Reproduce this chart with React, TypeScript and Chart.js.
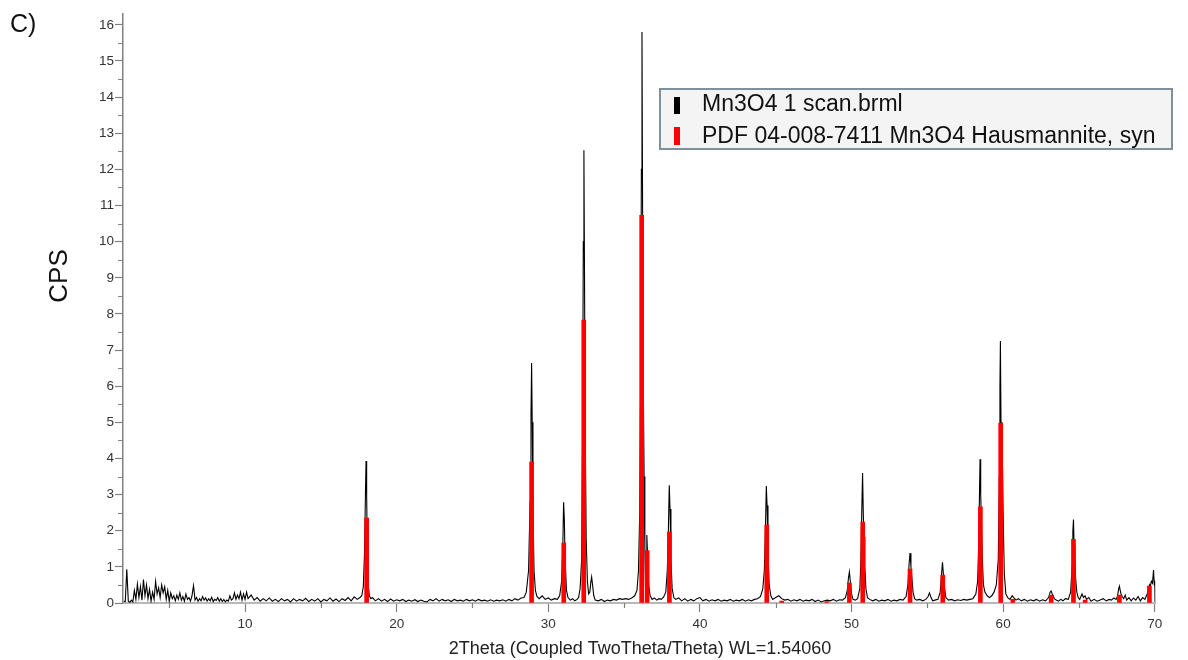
import React, { useEffect, useRef } from "react";
import { Chart, registerables } from "chart.js";

Chart.register(...registerables);

const panelLabel = "C)";
const yTitle = "CPS";
const xTitle = "2Theta (Coupled TwoTheta/Theta) WL=1.54060";
const scanLabel = "Mn3O4 1 scan.brml";
const refLabel = "PDF 04-008-7411 Mn3O4 Hausmannite, syn";

const xTicks = [10, 20, 30, 40, 50, 60, 70];
const xMinorTicks = [5, 15, 25, 35, 45, 55, 65];
const yTicks = [0, 1, 2, 3, 4, 5, 6, 7, 8, 9, 10, 11, 12, 13, 14, 15, 16];
const yMinorTicks = [0.5, 1.5, 2.5, 3.5, 4.5, 5.5, 6.5, 7.5, 8.5, 9.5, 10.5, 11.5, 12.5, 13.5, 14.5, 15.5];

// measured scan: [2theta, CPS]
const scanLowAngle: [number, number][] = [
  [2.0, 0.05], [2.1, 0.04], [2.2, 0.93], [2.3, 0.05], [2.4, 0.02], [2.5, 0.08], [2.6, 0.03], [2.7, 0.35], [2.8, 0.1], [2.9, 0.52],
  [3.0, 0.15], [3.1, 0.45], [3.2, 0.08], [3.3, 0.65], [3.4, 0.2], [3.5, 0.5], [3.6, 0.12], [3.7, 0.38], [3.8, 0.05], [3.9, 0.3],
  [4.0, 0.1], [4.1, 0.6], [4.2, 0.25], [4.3, 0.42], [4.4, 0.15], [4.5, 0.5], [4.6, 0.28], [4.7, 0.45], [4.8, 0.1], [4.9, 0.35],
  [5.0, 0.05], [5.1, 0.28], [5.2, 0.12], [5.3, 0.2], [5.4, 0.06], [5.5, 0.22], [5.6, 0.1], [5.7, 0.28], [5.8, 0.08], [5.9, 0.18],
  [6.0, 0.05], [6.1, 0.25], [6.2, 0.1], [6.3, 0.15], [6.4, 0.05], [6.5, 0.2], [6.6, 0.48], [6.7, 0.08], [6.8, 0.15], [6.9, 0.05],
  [7.0, 0.12], [7.1, 0.06], [7.2, 0.18], [7.3, 0.08], [7.4, 0.14], [7.5, 0.05], [7.6, 0.12], [7.7, 0.06], [7.8, 0.16], [7.9, 0.04],
  [8.0, 0.1], [8.1, 0.07], [8.2, 0.15], [8.3, 0.05], [8.4, 0.12], [8.5, 0.04], [8.6, 0.1], [8.7, 0.03], [8.8, 0.08], [8.9, 0.05],
  [9.0, 0.2], [9.1, 0.08], [9.2, 0.12], [9.3, 0.28], [9.4, 0.1], [9.5, 0.22], [9.6, 0.12], [9.7, 0.3], [9.8, 0.08], [9.9, 0.25],
  [10.0, 0.1], [10.1, 0.3],
];

const scanTo18: [number, number][] = [
  [10.2, 0.12], [10.4, 0.22], [10.6, 0.08], [10.8, 0.15], [11.0, 0.05], [11.2, 0.12], [11.4, 0.06], [11.6, 0.14], [11.8, 0.05],
  [12.0, 0.1], [12.2, 0.04], [12.4, 0.12], [12.6, 0.06], [12.8, 0.1], [13.0, 0.03], [13.2, 0.12], [13.4, 0.05], [13.6, 0.1],
  [13.8, 0.06], [14.0, 0.13], [14.2, 0.04], [14.4, 0.1], [14.6, 0.05], [14.8, 0.12], [15.0, 0.03], [15.2, 0.1], [15.4, 0.06],
  [15.6, 0.14], [15.8, 0.05], [16.0, 0.11], [16.2, 0.04], [16.4, 0.12], [16.6, 0.07], [16.8, 0.15], [17.0, 0.06], [17.2, 0.17],
  [17.4, 0.1], [17.6, 0.16],
  [17.7, 0.2], [17.8, 0.45], [17.88, 1.4], [17.94, 3.0], [17.98, 3.93], [18.02, 3.0], [18.06, 1.6], [18.12, 0.5], [18.2, 0.2], [18.3, 0.12],
];

const scanTo29: [number, number][] = [
  [18.4, 0.15], [18.6, 0.06], [18.8, 0.12], [19.0, 0.05], [19.2, 0.1], [19.4, 0.04], [19.6, 0.11], [19.8, 0.05], [20.0, 0.09],
  [20.2, 0.06], [20.4, 0.1], [20.6, 0.04], [20.8, 0.08], [21.0, 0.05], [21.2, 0.09], [21.4, 0.04], [21.6, 0.08], [21.8, 0.05],
  [22.0, 0.03], [22.2, 0.1], [22.4, 0.06], [22.6, 0.12], [22.8, 0.05], [23.0, 0.1], [23.2, 0.06], [23.4, 0.09], [23.6, 0.04],
  [23.8, 0.1], [24.0, 0.06], [24.2, 0.08], [24.4, 0.05], [24.6, 0.1], [24.8, 0.06], [25.0, 0.09], [25.2, 0.05], [25.4, 0.1],
  [25.6, 0.06], [25.8, 0.08], [26.0, 0.05], [26.2, 0.09], [26.4, 0.05], [26.6, 0.08], [26.8, 0.06], [27.0, 0.09], [27.2, 0.05],
  [27.4, 0.1], [27.6, 0.06], [27.8, 0.12], [28.0, 0.08], [28.2, 0.14], [28.4, 0.15],
  [28.55, 0.3], [28.7, 0.9], [28.8, 2.8], [28.86, 5.2], [28.9, 6.64], [28.94, 5.0], [28.99, 2.6], [29.06, 0.9], [29.15, 0.35], [29.25, 0.18],
];

const scanTo34: [number, number][] = [
  [29.4, 0.12], [29.6, 0.2], [29.8, 0.1], [30.0, 0.14], [30.2, 0.08], [30.4, 0.12], [30.6, 0.1], [30.75, 0.2],
  [30.88, 0.6], [30.96, 1.6], [31.01, 2.79], [31.06, 2.3], [31.11, 1.2], [31.2, 0.35], [31.3, 0.15],
  [31.45, 0.08], [31.6, 0.12], [31.75, 0.06], [31.9, 0.1], [32.0, 0.15], [32.1, 0.4],
  [32.2, 1.2], [32.26, 4.5], [32.31, 10.0], [32.35, 12.53], [32.39, 9.0], [32.44, 4.5], [32.5, 1.8], [32.58, 0.6], [32.66, 0.25],
  [32.74, 0.3], [32.8, 0.55], [32.86, 0.72], [32.92, 0.5], [33.0, 0.2], [33.1, 0.08],
  [33.3, 0.06], [33.5, 0.1], [33.7, 0.04], [33.9, 0.08],
];

const scanTo39: [number, number][] = [
  [34.1, 0.06], [34.3, 0.1], [34.5, 0.08], [34.7, 0.12], [34.9, 0.1], [35.1, 0.12], [35.3, 0.1], [35.5, 0.14], [35.7, 0.2], [35.85, 0.35],
  [35.95, 0.9], [36.03, 2.5], [36.09, 6.0], [36.14, 12.0], [36.18, 15.8], [36.22, 11.0], [36.27, 6.0], [36.32, 3.5], [36.37, 1.5], [36.41, 0.45],
  [36.46, 1.2], [36.5, 1.88], [36.55, 1.3], [36.62, 0.5], [36.72, 0.2],
  [36.85, 0.1], [37.0, 0.14], [37.15, 0.08], [37.3, 0.12], [37.45, 0.1], [37.6, 0.16], [37.75, 0.3],
  [37.85, 0.9], [37.92, 2.0], [37.98, 3.26], [38.03, 2.6], [38.09, 1.2], [38.17, 0.4], [38.28, 0.15],
  [38.4, 0.1], [38.6, 0.14], [38.8, 0.06],
];

const scanTo45: [number, number][] = [
  [39.0, 0.12], [39.2, 0.05], [39.4, 0.1], [39.6, 0.06], [39.8, 0.12], [40.0, 0.15], [40.2, 0.06], [40.4, 0.1], [40.6, 0.05],
  [40.8, 0.09], [41.0, 0.06], [41.2, 0.1], [41.4, 0.05], [41.6, 0.08], [41.8, 0.06], [42.0, 0.1], [42.2, 0.05], [42.4, 0.08],
  [42.6, 0.06], [42.8, 0.1], [43.0, 0.05], [43.2, 0.09], [43.4, 0.06], [43.6, 0.1], [43.8, 0.12], [44.0, 0.18], [44.15, 0.4],
  [44.25, 0.9], [44.32, 2.0], [44.38, 3.24], [44.43, 2.7], [44.49, 1.4], [44.57, 0.5], [44.68, 0.2],
  [44.8, 0.1], [45.0, 0.15], [45.2, 0.2], [45.4, 0.12], [45.6, 0.08], [45.8, 0.1],
];

const scanTo54: [number, number][] = [
  [46.0, 0.05], [46.2, 0.09], [46.4, 0.06], [46.6, 0.1], [46.8, 0.05], [47.0, 0.08], [47.2, 0.06], [47.4, 0.1], [47.6, 0.04],
  [47.8, 0.08], [48.0, 0.03], [48.2, 0.06], [48.4, 0.08], [48.6, 0.06], [48.8, 0.1], [49.0, 0.05], [49.2, 0.09], [49.4, 0.08], [49.6, 0.15],
  [49.72, 0.35], [49.8, 0.7], [49.86, 0.86], [49.92, 0.6], [50.0, 0.25], [50.1, 0.1], [50.25, 0.08], [50.4, 0.12], [50.55, 0.4],
  [50.62, 1.2], [50.68, 2.6], [50.73, 3.6], [50.78, 2.4], [50.83, 1.83], [50.88, 1.0], [50.95, 0.4], [51.05, 0.15],
  [51.2, 0.1], [51.4, 0.06], [51.6, 0.1], [51.8, 0.05], [52.0, 0.08], [52.2, 0.06], [52.4, 0.1], [52.6, 0.05], [52.8, 0.08],
  [53.0, 0.06], [53.2, 0.1], [53.4, 0.08], [53.6, 0.18],
  [53.72, 0.5], [53.8, 1.1], [53.86, 1.38], [53.92, 1.0], [53.98, 0.7], [54.06, 0.3], [54.16, 0.12],
];

const scanTo60: [number, number][] = [
  [54.3, 0.08], [54.5, 0.1], [54.7, 0.06], [54.9, 0.1], [55.05, 0.18], [55.14, 0.28], [55.22, 0.18], [55.35, 0.06], [55.5, 0.08],
  [55.7, 0.1], [55.85, 0.3], [55.94, 0.8], [56.0, 1.13], [56.06, 0.8], [56.13, 0.45], [56.22, 0.15],
  [56.4, 0.08], [56.6, 0.1], [56.8, 0.06], [57.0, 0.09], [57.2, 0.07], [57.4, 0.1], [57.6, 0.08], [57.8, 0.1], [58.0, 0.12],
  [58.2, 0.25], [58.32, 0.6], [58.4, 1.8], [58.45, 3.3], [58.48, 3.98], [58.52, 3.0], [58.57, 2.25], [58.62, 1.3], [58.7, 0.5], [58.8, 0.3],
  [58.95, 0.2], [59.1, 0.15], [59.25, 0.2], [59.4, 0.3], [59.55, 0.5], [59.68, 1.2],
  [59.75, 3.5], [59.79, 6.0], [59.82, 7.25], [59.86, 5.0], [59.91, 3.2], [59.96, 3.77], [60.01, 2.2], [60.08, 0.8], [60.18, 0.25],
];

const scanTo70: [number, number][] = [
  [60.3, 0.15], [60.45, 0.1], [60.6, 0.2], [60.7, 0.15], [60.85, 0.08], [61.0, 0.12], [61.2, 0.06], [61.4, 0.1], [61.6, 0.05],
  [61.8, 0.09], [62.0, 0.06], [62.2, 0.1], [62.4, 0.05], [62.6, 0.09], [62.8, 0.06], [63.0, 0.15],
  [63.1, 0.3], [63.17, 0.33], [63.24, 0.25], [63.3, 0.2], [63.38, 0.12], [63.5, 0.08], [63.65, 0.05], [63.8, 0.1], [63.95, 0.06],
  [64.1, 0.12], [64.3, 0.1], [64.45, 0.3], [64.55, 1.0], [64.6, 2.0], [64.64, 2.31], [64.68, 1.6], [64.73, 1.3], [64.78, 0.7],
  [64.86, 0.3], [64.95, 0.15], [65.05, 0.1], [65.2, 0.25], [65.3, 0.15], [65.4, 0.2], [65.5, 0.1], [65.65, 0.15], [65.8, 0.05],
  [66.0, 0.1], [66.2, 0.05], [66.4, 0.08], [66.6, 0.12], [66.8, 0.06], [67.0, 0.1], [67.15, 0.08], [67.3, 0.14], [67.45, 0.1],
  [67.55, 0.2], [67.62, 0.4], [67.67, 0.47], [67.72, 0.35], [67.78, 0.25], [67.85, 0.18], [67.95, 0.12], [68.05, 0.22], [68.15, 0.08],
  [68.3, 0.15], [68.45, 0.06], [68.6, 0.14], [68.75, 0.08], [68.9, 0.18], [69.05, 0.06], [69.2, 0.15], [69.35, 0.1], [69.5, 0.25],
  [69.6, 0.4], [69.65, 0.5], [69.7, 0.45], [69.78, 0.6], [69.85, 0.55], [69.92, 0.91], [69.97, 0.5], [70.0, 0.62], [70.02, 0.03],
];

// reference pattern PDF 04-008-7411 (stick positions / heights)
const refTheta = [18.02, 28.9, 31.02, 32.34, 36.16, 36.52, 37.99, 44.41, 45.4, 48.37, 49.86, 50.74, 53.86, 56.02, 58.5, 59.84, 60.64, 63.17, 64.64, 65.41, 67.67, 69.65];
const refCps = [2.35, 3.9, 1.66, 7.83, 10.73, 1.45, 1.96, 2.16, 0.05, 0.04, 0.55, 2.24, 0.94, 0.77, 2.66, 4.98, 0.1, 0.22, 1.76, 0.08, 0.22, 0.47];

const FONT = "'Liberation Sans', Arial, Helvetica, sans-serif";

const decorPlugin = {
  id: "decor",
  afterDraw(chart: any) {
    const { ctx, scales } = chart;
    const xs = scales.x;
    const ys = scales.y;
    ctx.save();
    // minor ticks
    ctx.strokeStyle = "#808080";
    ctx.lineWidth = 1.2;
    ctx.beginPath();
    const yAxisX = xs.left;
    yMinorTicks.forEach((v) => {
      const py = Math.round(ys.getPixelForValue(v)) + 0.5;
      ctx.moveTo(yAxisX - 5, py);
      ctx.lineTo(yAxisX, py);
    });
    const xAxisY = ys.bottom;
    xMinorTicks.forEach((v) => {
      const px = Math.round(xs.getPixelForValue(v)) + 0.5;
      ctx.moveTo(px, xAxisY);
      ctx.lineTo(px, xAxisY + 5);
    });
    ctx.stroke();

    // texts
    ctx.fillStyle = "#111";
    ctx.font = `25px ${FONT}`;
    ctx.textAlign = "left";
    ctx.textBaseline = "alphabetic";
    ctx.fillText(panelLabel, 10, 32);

    ctx.save();
    ctx.translate(67, 276);
    ctx.rotate(-Math.PI / 2);
    ctx.font = `26px ${FONT}`;
    ctx.textAlign = "center";
    ctx.fillText(yTitle, 0, 0);
    ctx.restore();

    ctx.font = `18px ${FONT}`;
    ctx.textAlign = "center";
    ctx.fillStyle = "#222";
    ctx.fillText(xTitle, 640, 654);

    // legend box
    const lx = 660, ly = 89, lw = 512, lh = 60;
    ctx.fillStyle = "#f4f4f4";
    ctx.fillRect(lx, ly, lw, lh);
    ctx.strokeStyle = "#7d909c";
    ctx.lineWidth = 2;
    ctx.strokeRect(lx, ly, lw, lh);
    ctx.fillStyle = "#000";
    ctx.fillRect(674, 97, 6, 17);
    ctx.fillStyle = "#ff0000";
    ctx.fillRect(674, 127, 6, 18);
    ctx.fillStyle = "#111";
    ctx.font = `23px ${FONT}`;
    ctx.textAlign = "left";
    ctx.fillText(scanLabel, 702, 111);
    ctx.fillText(refLabel, 702, 143);
    ctx.restore();
  },
};

export default function App() {
  const ref = useRef<HTMLCanvasElement | null>(null);
  useEffect(() => {
    if (!ref.current) return;
    const scan = [
      ...scanLowAngle, ...scanTo18, ...scanTo29, ...scanTo34, ...scanTo39,
      ...scanTo45, ...scanTo54, ...scanTo60, ...scanTo70,
    ].map(([x, y]) => ({ x, y }));
    const sticks = refTheta.map((x, i) => ({ x, y: refCps[i] }));
    const tickFont = { family: FONT, size: 13.5 };
    const chart = new Chart(ref.current, {
      type: "line",
      data: {
        datasets: [
          {
            type: "bar",
            label: refLabel,
            data: sticks as any,
            backgroundColor: "#ff0000",
            barThickness: 4,
            grouped: false,
            order: 0,
          } as any,
          {
            type: "line",
            label: scanLabel,
            data: scan as any,
            borderColor: "#000000",
            borderWidth: 1.1,
            pointRadius: 0,
            fill: false,
            tension: 0,
            order: 1,
          } as any,
        ],
      },
      options: {
        responsive: false,
        animation: false,
        events: [],
        layout: { padding: { top: 14, right: 32.5, left: 0, bottom: 0 } },
        plugins: { legend: { display: false }, tooltip: { enabled: false } },
        scales: {
          x: {
            type: "linear",
            min: 1.95,
            max: 70.05,
            offset: false,
            afterBuildTicks: (s: any) => {
              s.ticks = xTicks.map((v) => ({ value: v }));
            },
            afterFit: (s: any) => {
              s.height = 57;
            },
            grid: { offset: false, drawOnChartArea: false, drawTicks: true, tickLength: 9, tickColor: "#808080", tickWidth: 1.2 },
            border: { display: true, color: "#b8b8b8", width: 2 },
            ticks: { font: tickFont, color: "#333", padding: 4, maxRotation: 0, autoSkip: false },
          },
          y: {
            type: "linear",
            min: 0,
            max: 16.3,
            afterBuildTicks: (s: any) => {
              s.ticks = yTicks.map((v) => ({ value: v }));
            },
            afterFit: (s: any) => {
              s.width = 123;
            },
            grid: { drawOnChartArea: false, drawTicks: true, tickLength: 8, tickColor: "#808080", tickWidth: 1.2 },
            border: { display: true, color: "#808080", width: 1.5 },
            ticks: { font: tickFont, color: "#333", padding: 1, autoSkip: false },
          },
        },
      } as any,
      plugins: [decorPlugin],
    });
    return () => chart.destroy();
  }, []);
  return (
    <div style={{ position: "fixed", left: 0, top: 0, width: 1188, height: 660, background: "#fff" }}>
      <canvas ref={ref} width={1188} height={660} style={{ display: "block" }} />
    </div>
  );
}
